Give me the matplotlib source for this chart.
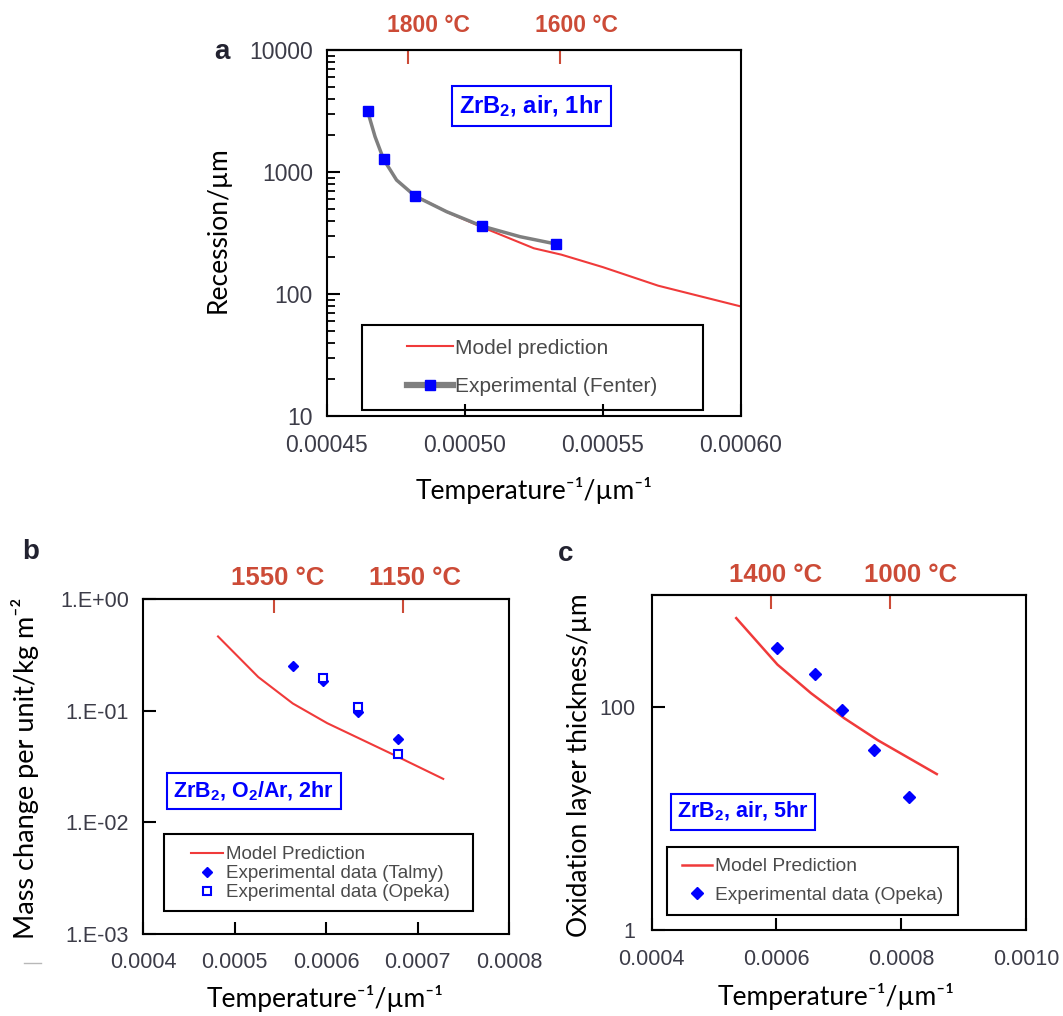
import matplotlib
matplotlib.use('Agg')
import matplotlib.pyplot as plt
from matplotlib.patches import Rectangle
from matplotlib.lines import Line2D
import matplotlib.ticker as mticker

plt.rcParams['font.family'] = ['Liberation Sans', 'DejaVu Sans']
plt.rcParams['mathtext.fontset'] = 'custom'
plt.rcParams['mathtext.rm'] = 'Liberation Sans'
plt.rcParams['mathtext.it'] = 'Liberation Sans:italic'
plt.rcParams['mathtext.bf'] = 'Liberation Sans:bold'

# ---------------- data ----------------
# Panel a: ZrB2, air, 1 hr
a_exp_x = [0.0004648, 0.0004706, 0.000482, 0.0005061, 0.000533]
a_exp_y = [3160, 1270, 635, 361, 257]
a_curve_x = [0.0004648, 0.0004675, 0.0004706, 0.0004753, 0.000482, 0.0004934, 0.0005061, 0.00052, 0.000533]
a_curve_y = [3160, 1950, 1270, 859, 635, 473, 361, 295, 257]
a_model_x = [0.000482, 0.000494, 0.000506, 0.000525, 0.000535, 0.00055, 0.00057, 0.0006]
a_model_y = [640, 465, 355, 237, 210, 166, 117, 79]
a_xticks = [0.00045, 0.0005, 0.00055, 0.0006]
a_xticklabels = ['0.00045', '0.00050', '0.00055', '0.00060']
a_yticks = [10, 100, 1000, 10000]
a_yticklabels = ['10', '100', '1000', '10000']
a_top_ticks = [0.0004795, 0.0005345]
a_top_label_x = [0.0004868, 0.0005403]
a_top_labels = ['1800 °C', '1600 °C']

# Panel b: ZrB2, O2/Ar, 2 hr
b_model_x = [0.000482, 0.000526, 0.0005637, 0.0006013, 0.000639, 0.0006766, 0.0007281]
b_model_y = [0.462, 0.200, 0.116, 0.0773, 0.0551, 0.0393, 0.0245]
b_talmy_x = [0.0005637, 0.0005964, 0.0006352, 0.0006785]
b_talmy_y = [0.253, 0.186, 0.098, 0.0562]
b_opeka_x = [0.0005964, 0.0006352, 0.0006785]
b_opeka_y = [0.197, 0.108, 0.0412]
b_xticks = [0.0004, 0.0005, 0.0006, 0.0007, 0.0008]
b_xticklabels = ['0.0004', '0.0005', '0.0006', '0.0007', '0.0008']
b_yticks = [1e-3, 1e-2, 1e-1, 1e0]
b_yticklabels = ['1.E-03', '1.E-02', '1.E-01', '1.E+00']
b_top_ticks = [0.0005437, 0.0006841]
b_top_label_x = [0.0005467, 0.0006978]
b_top_labels = ['1550 °C', '1150 °C']

# Panel c: ZrB2, air, 5 hr
c_model_x = [0.0005355, 0.0006016, 0.0006554, 0.0007091, 0.0007629, 0.000857]
c_model_y = [621, 238, 132, 78.5, 49.9, 24.9]
c_opeka_x = [0.0006005, 0.0006618, 0.0007054, 0.0007559, 0.0008129]
c_opeka_y = [337, 196, 92.6, 41.1, 15.4]
c_xticks = [0.0004, 0.0006, 0.0008, 0.0010]
c_xticklabels = ['0.0004', '0.0006', '0.0008', '0.0010']
c_yticks = [1, 100]
c_yticklabels = ['1', '100']
c_top_ticks = [0.000592, 0.0007817]
c_top_label_x = [0.0005983, 0.0008145]
c_top_labels = ['1400 °C', '1000 °C']

# ---------------- style ----------------
W, H = 1063, 1016
fig = plt.figure(figsize=(W / 100, H / 100), dpi=100)
fig.patch.set_facecolor('white')

TICK_C = '#3c3c48'
TOP_C = '#cc4b37'
RED = '#f03a3a'
BLUE = '#0000ff'
GRAY = '#7f7f7f'
LEG_C = '#4a4a4a'
LABEL_FAMILY = ['Lato', 'DejaVu Sans']
XLABEL = 'Temperature\u207b\u00b9/\u00b5m\u207b\u00b9'


def px_rect(l, t, r, b):
    return [l / W, 1 - b / H, (r - l) / W, (b - t) / H]


def fig_xy(x, y):
    return x / W, 1 - y / H


def style_axes(ax, xticks, xlabels, yticks, ylabels, fs, xpad, ypad, ylen):
    for s in ax.spines.values():
        s.set_linewidth(1.5)
        s.set_color('black')
    ax.xaxis.set_major_locator(mticker.FixedLocator(xticks))
    ax.xaxis.set_major_formatter(mticker.FixedFormatter(xlabels))
    ax.yaxis.set_major_locator(mticker.FixedLocator(yticks))
    ax.yaxis.set_major_formatter(mticker.FixedFormatter(ylabels))
    ax.xaxis.set_minor_locator(mticker.NullLocator())
    ax.tick_params(axis='x', which='major', direction='in', length=9, width=1.5,
                   labelsize=fs, labelcolor=TICK_C, pad=xpad, top=False)
    ax.tick_params(axis='y', which='major', direction='in', length=ylen, width=1.5,
                   labelsize=fs, labelcolor=TICK_C, pad=ypad, right=False)


def top_axis(ax, ticks, label_x, labels, fs, off_px):
    sec = ax.secondary_xaxis('top')
    sec.xaxis.set_major_locator(mticker.FixedLocator(ticks))
    sec.xaxis.set_minor_locator(mticker.NullLocator())
    sec.tick_params(axis='x', direction='in', length=10, width=1.5, color=TOP_C,
                    labeltop=False)
    sec.spines['top'].set_linewidth(1.5)
    for xv, lbl in zip(label_x, labels):
        ax.annotate(lbl, (xv, 1.0), xycoords=('data', 'axes fraction'),
                    xytext=(0, off_px * 0.72), textcoords='offset points',
                    ha='center', va='center', fontsize=fs, fontweight='bold',
                    color=TOP_C, annotation_clip=False)


def tag_box(ax, x, y, txt, fs):
    ax.text(x, y, txt, transform=ax.transAxes, ha='center', va='center',
            fontsize=fs, fontweight='bold', color=BLUE, zorder=6,
            bbox=dict(boxstyle='square,pad=0.3', fc='white', ec=BLUE, lw=1.5))


def legend_frame(ax, x0, y0, x1, y1):
    ax.add_patch(Rectangle((x0, y0), x1 - x0, y1 - y0, transform=ax.transAxes,
                           fill=False, ec='black', lw=1.5, zorder=6))


# ---------------- panel a ----------------
axa = fig.add_axes(px_rect(326.7, 50, 741, 416))
axa.set_yscale('log')
axa.plot(a_model_x, a_model_y, color=RED, lw=1.5, zorder=2)
axa.plot(a_curve_x, a_curve_y, color=GRAY, lw=2.5, zorder=3)
axa.plot(a_exp_x, a_exp_y, ls='none', marker='s', ms=6.5, color=BLUE, zorder=4)
axa.set_xlim(0.00045, 0.0006)
axa.set_ylim(10, 10000)
style_axes(axa, a_xticks, a_xticklabels, a_yticks, a_yticklabels, 16.5, 13, 10, 9)
axa.yaxis.set_minor_locator(mticker.LogLocator(base=10, subs=range(2, 10)))
axa.yaxis.set_minor_formatter(mticker.NullFormatter())
axa.tick_params(axis='y', which='minor', direction='in', length=6, width=1.3, right=False)
top_axis(axa, a_top_ticks, a_top_label_x, a_top_labels, 16.5, 24.5)
tag_box(axa, 0.494, 0.847, r'ZrB$_{\mathbf{2}}$, air, 1hr', 17)
legend_frame(axa, 0.085, 0.0164, 0.908, 0.249)
ha = [Line2D([], [], color=RED, lw=1.5),
      Line2D([], [], color=GRAY, lw=4.5, marker='s', ms=6.5, mfc=BLUE, mec=BLUE)]
axa.legend(ha, ['Model prediction', 'Experimental (Fenter)'], loc='center',
           bbox_to_anchor=(0.4965, 0.1327), frameon=False, fontsize=15,
           handlelength=2.2, handletextpad=0.1, labelspacing=0.95, borderpad=0,
           labelcolor=LEG_C)
fig.text(*fig_xy(222, 52), 'a', fontsize=20, fontweight='bold', color='#222230',
         ha='center', va='center')
fig.text(*fig_xy(218, 230), 'Recession/\u00b5m', rotation=90, fontsize=19,
         family=LABEL_FAMILY, ha='center', va='center')
fig.text(*fig_xy(534, 491), XLABEL, fontsize=19,
         family=LABEL_FAMILY, ha='center', va='center')

# ---------------- panel b ----------------
axb = fig.add_axes(px_rect(143, 599, 509, 934))
axb.set_yscale('log')
axb.plot(b_model_x, b_model_y, color=RED, lw=1.5, zorder=2)
axb.plot(b_talmy_x, b_talmy_y, ls='none', marker='D', ms=5.5, color=BLUE, zorder=4)
axb.plot(b_opeka_x, b_opeka_y, ls='none', marker='s', ms=6, mfc='white',
         mec=BLUE, mew=1.5, zorder=5)
axb.set_xlim(0.0004, 0.0008)
axb.set_ylim(1e-3, 1)
style_axes(axb, b_xticks, b_xticklabels, b_yticks, b_yticklabels, 15.5, 13, 10, 9)
axb.yaxis.set_minor_locator(mticker.NullLocator())
top_axis(axb, b_top_ticks, b_top_label_x, b_top_labels, 18.5, 21)
tag_box(axb, 0.3024, 0.426, r'ZrB$_{\mathbf{2}}$, O$_{\mathbf{2}}$/Ar, 2hr', 15.5)
legend_frame(axb, 0.0564, 0.07, 0.901, 0.298)
hb = [Line2D([], [], color=RED, lw=1.5),
      Line2D([], [], ls='none', marker='D', ms=5.5, color=BLUE),
      Line2D([], [], ls='none', marker='s', ms=6, mfc='white', mec=BLUE, mew=1.5)]
axb.legend(hb, ['Model Prediction', 'Experimental data (Talmy)', 'Experimental data (Opeka)'],
           loc='center', bbox_to_anchor=(0.4854, 0.180), frameon=False, fontsize=13.5,
           handlelength=1.7, handletextpad=0.18, labelspacing=0.1, borderpad=0,
           labelcolor=LEG_C)
fig.text(*fig_xy(31, 552), 'b', fontsize=20, fontweight='bold', color='#222230',
         ha='center', va='center')
fig.text(*fig_xy(25, 768), 'Mass change per unit/kg m\u207b\u00b2', rotation=90,
         fontsize=19.5, family=LABEL_FAMILY, ha='center', va='center')
fig.text(*fig_xy(325, 998), XLABEL, fontsize=19,
         family=LABEL_FAMILY, ha='center', va='center')
fig.add_artist(Line2D([24 / W, 41 / W], [1 - 963 / H, 1 - 963 / H], color='#b8b8b8', lw=1))

# ---------------- panel c ----------------
axc = fig.add_axes(px_rect(651.7, 595, 1026, 930))
axc.set_yscale('log')
axc.plot(c_model_x, c_model_y, color=RED, lw=1.8, zorder=2)
axc.plot(c_opeka_x, c_opeka_y, ls='none', marker='D', ms=6, color=BLUE, zorder=4)
axc.set_xlim(0.0004, 0.0010)
axc.set_ylim(1, 1000)
style_axes(axc, c_xticks, c_xticklabels, c_yticks, c_yticklabels, 15.5, 14, 12, 9)
axc.yaxis.set_minor_locator(mticker.NullLocator())
top_axis(axc, c_top_ticks, c_top_label_x, c_top_labels, 18.5, 20)
tag_box(axc, 0.244, 0.353, r'ZrB$_{\mathbf{2}}$, air, 5hr', 15.5)
legend_frame(axc, 0.040, 0.0457, 0.8175, 0.2466)
hc = [Line2D([], [], color=RED, lw=1.8),
      Line2D([], [], ls='none', marker='D', ms=6, color=BLUE)]
axc.legend(hc, ['Model Prediction', 'Experimental data (Opeka)'],
           loc='center', bbox_to_anchor=(0.4297, 0.147), frameon=False, fontsize=13.8,
           handlelength=1.56, handletextpad=0.12, labelspacing=0.57, borderpad=0,
           labelcolor=LEG_C)
fig.text(*fig_xy(566, 554), 'c', fontsize=20, fontweight='bold', color='#222230',
         ha='center', va='center')
fig.text(*fig_xy(579, 765), 'Oxidation layer thickness/\u00b5m', rotation=90, fontsize=19,
         family=LABEL_FAMILY, ha='center', va='center')
fig.text(*fig_xy(836, 997), XLABEL, fontsize=19,
         family=LABEL_FAMILY, ha='center', va='center')

fig.savefig('out.png', dpi=100)
